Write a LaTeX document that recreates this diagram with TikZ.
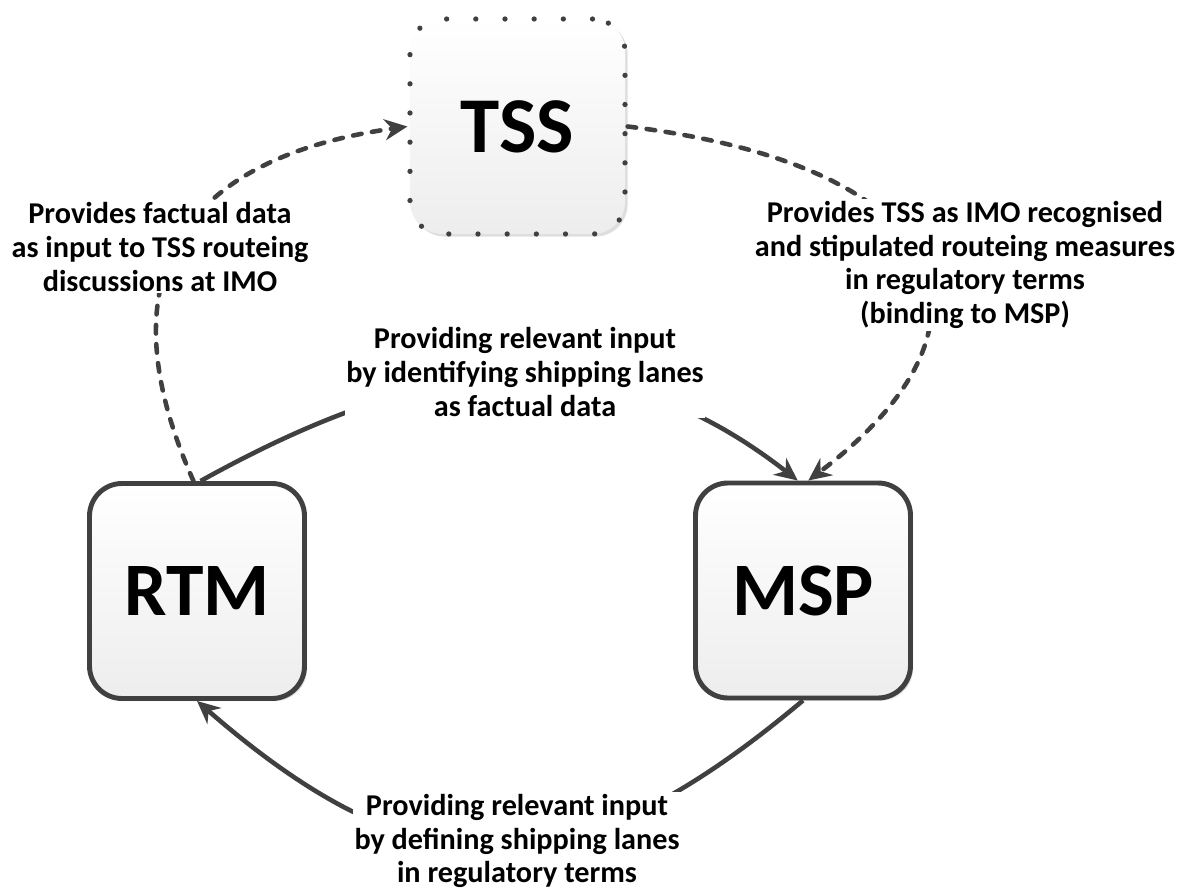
\documentclass[tikz,border=0pt]{standalone}
\usepackage{fontspec}
\setmainfont{Carlito}
\usetikzlibrary{arrows.meta, shadows}
\definecolor{edgegray}{HTML}{404040}

\begin{document}
\begin{tikzpicture}[line join=round,
    box/.style={rectangle, rounded corners=0.65cm, minimum width=4.3cm, minimum height=4.3cm,
        top color=white, bottom color=black!7,
        general shadow={fill=black!13, shadow xshift=1.5pt, shadow yshift=-1.5pt},
        font=\fontsize{43}{50}\selectfont\bfseries},
    solidbox/.style={box, draw=edgegray, line width=2.8pt},
    dotbox/.style={box, draw=edgegray, line width=3pt, line cap=round, dash pattern=on 0pt off 16.6pt,
        font=\fontsize{45}{50}\selectfont\bfseries},
    lbl/.style={fill=white, align=center, inner sep=1pt, font=\fontsize{17.2}{19.2}\selectfont\bfseries},
    flow/.style={draw=edgegray, line width=2.6pt, -{Stealth[length=13pt, width=12pt]}},
    dashflow/.style={flow, line cap=round, dash pattern=on 4.9pt off 6pt}]

    \useasboundingbox (0,0) rectangle (23.64,17.8);

    % the three parties
    \node[dotbox] (tss) at (10.35,15.27) {TSS};
    \node[solidbox] (rtm) at (3.94,5.98) {RTM};
    \node[solidbox] (msp) at (16.06,5.99) {MSP};

    % dashed: regulatory input via TSS
    \draw[dashflow] ([xshift=-2pt]rtm.north) .. controls +(114:5) and +(188:4) .. (tss.west);
    \draw[dashflow] (tss.east) .. controls +(-7:6.6) and +(37:5.2) .. ([xshift=3pt]msp.north);

    % solid: direct exchange RTM <-> MSP
    \draw[flow] ([xshift=2pt]rtm.north) .. controls +(29:5) and +(142:5) .. ([xshift=-3pt]msp.north);
    \draw[flow] (msp.south) .. controls +(220:6) and +(-41:6) .. (rtm.south);

    % labels sit on top of the connectors
    \node[lbl] (factlbl) at (3.2,12.86) {Provides factual data\\as input to TSS routeing\\discussions at IMO};
    \node[lbl] (recoglbl) at (19.3,12.5) {Provides TSS as IMO recognised\\and stipulated routeing measures\\in regulatory terms\\(binding to MSP)};
    \node[lbl] (identlbl) at (10.5,10.36) {Providing relevant input\\by identifying shipping lanes\\as factual data};
    \node[lbl] (defnlbl) at (10.34,0.98) {Providing relevant input\\by defining shipping lanes\\in regulatory terms};

\end{tikzpicture}
\end{document}
